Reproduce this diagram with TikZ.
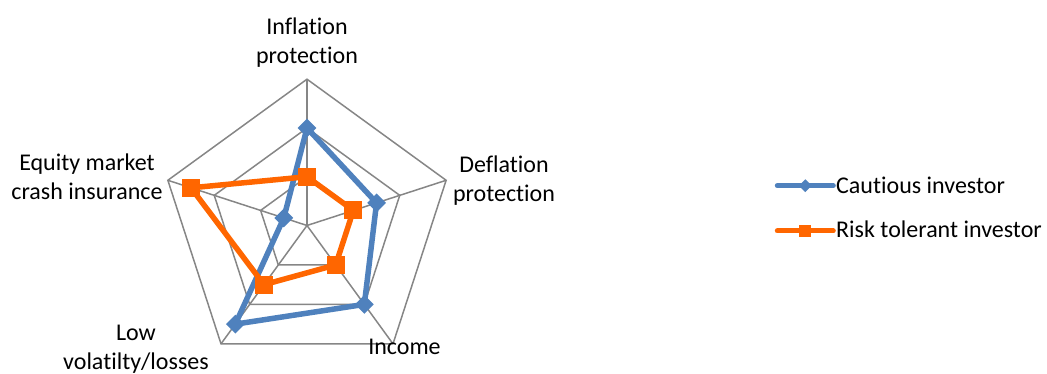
\documentclass[tikz,border=0pt]{standalone}
\usepackage{fontspec}
\setmainfont{Carlito}[Ligatures=CommonOff]
\usetikzlibrary{shapes.geometric}
\definecolor{gridgray}{RGB}{134,134,134}
\definecolor{cautblue}{RGB}{79,129,189}
\definecolor{riskorange}{RGB}{255,102,0}
\def\rad{146.3}
\tikzset{
	grid/.style={line width=1.5pt, color=gridgray},
	cautline/.style={line width=5.5pt, color=cautblue, line join=round},
	riskline/.style={line width=5.5pt, color=riskorange, line join=round},
	cautmark/.style={diamond, aspect=1, fill=cautblue, inner sep=0pt, minimum size=19pt},
	riskmark/.style={rectangle, fill=riskorange, inner sep=0pt, minimum size=18pt},
	chartfont/.style={font=\fontsize{24}{29}\selectfont},
	axislabel/.style={chartfont, align=center, inner sep=0pt, anchor=base},
}
\begin{document}
\begin{tikzpicture}[x=1pt, y=1pt]
			%%%%% START %%%%%
			\useasboundingbox (-307, -148.5) rectangle (740, 225.5);
			
			\coordinate (o) at (0, 0);
			\coordinate (infl) at (90:\rad);
			\coordinate (defl) at (18:\rad);
			\coordinate (inc) at (-54:\rad);
			\coordinate (lowv) at (-126:\rad);
			\coordinate (eqty) at (162:\rad);
			
			%% rings and spokes
			\draw[grid] (infl) -- (defl) -- (inc) -- (lowv) -- (eqty) -- cycle;
			\draw[grid] (90:2*\rad/3) -- (18:2*\rad/3) -- (-54:2*\rad/3) -- (-126:2*\rad/3) -- (162:2*\rad/3) -- cycle;
			\draw[grid] (90:\rad/3) -- (18:\rad/3) -- (-54:\rad/3) -- (-126:\rad/3) -- (162:\rad/3) -- cycle;
			\draw[grid] (o) -- (infl);
			\draw[grid] (o) -- (defl);
			\draw[grid] (o) -- (inc);
			\draw[grid] (o) -- (lowv);
			\draw[grid] (o) -- (eqty);
			
			%% cautious investor
			\coordinate (c1) at (90:2*\rad/3);
			\coordinate (c2) at (18:1.5*\rad/3);
			\coordinate (c3) at (-54:2*\rad/3);
			\coordinate (c4) at (-126:2.5*\rad/3);
			\coordinate (c5) at (162:0.5*\rad/3);
			\draw[cautline] (c1) -- (c2) -- (c3) -- (c4) -- (c5) -- cycle;
			\node[cautmark] (cm1) at (c1) {};
			\node[cautmark] (cm2) at (c2) {};
			\node[cautmark] (cm3) at (c3) {};
			\node[cautmark] (cm4) at (c4) {};
			\node[cautmark] (cm5) at (c5) {};
			
			%% risk tolerant investor
			\coordinate (r1) at (90:\rad/3);
			\coordinate (r2) at (18:\rad/3);
			\coordinate (r3) at (-54:\rad/3);
			\coordinate (r4) at (-126:1.5*\rad/3);
			\coordinate (r5) at (162:2.5*\rad/3);
			\draw[riskline] (r1) -- (r2) -- (r3) -- (r4) -- (r5) -- cycle;
			\node[riskmark] (rm1) at (r1) {};
			\node[riskmark] (rm2) at (r2) {};
			\node[riskmark] (rm3) at (r3) {};
			\node[riskmark] (rm4) at (r4) {};
			\node[riskmark] (rm5) at (r5) {};
			
			%% axis labels (anchored at the last line)
			\node[axislabel] (linfl) at (0, 161.5) {Inflation\\protection};
			\node[axislabel] (ldefl) at (197, 23.8) {Deflation\\protection};
			\node[axislabel] (linc) at (97.5, -129.5) {Income};
			\node[axislabel] (llowv) at (-171, -144.5) {Low\\volatilty/losses};
			\node[axislabel] (leqty) at (-220, 25.5) {Equity market\\crash insurance};
			
			%% legend
			\coordinate (ca) at (470.3, 39.8);
			\coordinate (cb) at (526.3, 39.8);
			\draw[line width=5pt, color=cautblue, line cap=round] (ca) -- (cb);
			\node[cautmark, minimum size=13pt] (lcm) at (498.3, 39.8) {};
			\node[chartfont, anchor=base west, inner sep=0pt] (lcaut) at (529, 32.2) {Cautious investor};
			
			\coordinate (ra) at (470.3, -5.5);
			\coordinate (rb) at (526.3, -5.5);
			\draw[line width=5pt, color=riskorange, line cap=round] (ra) -- (rb);
			\node[riskmark, minimum size=12pt] (lrm) at (498.3, -5.5) {};
			\node[chartfont, anchor=base west, inner sep=0pt] (lrisk) at (529, -12.2) {Risk tolerant investor};
			
			%%%%% END %%%%%
\end{tikzpicture}
\end{document}
